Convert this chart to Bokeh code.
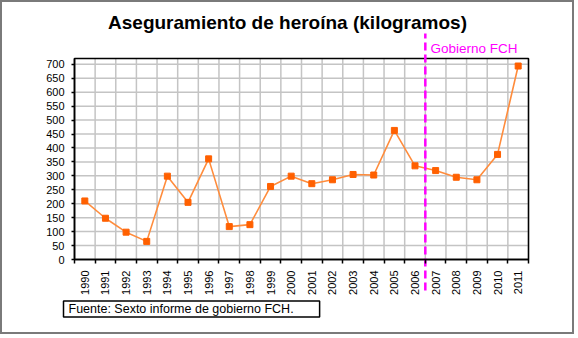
from bokeh.plotting import figure
from bokeh.models import FixedTicker, Label, Range1d
from bokeh.embed import file_html
from bokeh.resources import INLINE

years = [str(y) for y in range(1990, 2012)]
values = [210, 148, 98, 65, 299, 205, 361, 118, 125, 262, 299, 272, 286, 305, 303,
          463, 336, 319, 295, 286, 377, 694]
y_ticks = list(range(0, 701, 50))
y_top = 721
title_text = "Aseguramiento de heroína (kilogramos)"
source_text = "Fuente: Sexto informe de gobierno FCH."
marker_text = "Gobierno FCH"
gov_start_index = years.index("2007")

n = len(years)
xs = [i + 0.5 for i in range(n)]

# layout in page pixels (figure has a 2px CSS border)
BORDER = 2
W, H = 578 - 2 * BORDER, 338 - 2 * BORDER
FL, FR, FT, FB = 74, 528, 58, 259  # plot box in page pixels
sx = (FR - FL) / n
sy = (FB - FT) / y_top
def dx(px):
    return (px - FL) / sx
def dy(py):
    return (FB - py) / sy

x_range = Range1d(dx(BORDER), dx(BORDER + W))
y_range = Range1d(dy(BORDER + H), dy(BORDER))

p = figure(width=W, height=H, x_range=x_range, y_range=y_range,
           output_backend="svg", toolbar_location=None,
           min_border_left=0, min_border_right=0, min_border_top=0, min_border_bottom=0)
p.styles = {"border": "2px solid #7a7a7a"}
p.background_fill_color = "white"
p.border_fill_color = "white"
p.outline_line_color = None
p.xgrid.visible = False
p.ygrid.visible = False

# grid lines inside the plot box
gx = list(range(n + 1))
p.segment(x0=gx, y0=[0] * len(gx), x1=gx, y1=[y_top] * len(gx),
          line_color="#c4c4c4", line_width=1.5)
p.segment(x0=[0] * len(y_ticks), y0=y_ticks, x1=[n] * len(y_ticks), y1=y_ticks,
          line_color="#c4c4c4", line_width=1.5)
# plot box
p.quad(left=[0], right=[n], bottom=[0], top=[y_top], fill_color=None,
       line_color="black", line_width=1.5)

# axes at fixed locations
p.xaxis.fixed_location = 0
p.xaxis.bounds = (0, n)
p.xaxis.ticker = FixedTicker(ticks=xs, minor_ticks=gx)
p.xaxis.major_label_overrides = {x: y for x, y in zip(xs, years)}
p.xaxis.major_label_orientation = 1.5708
p.xaxis.major_tick_line_color = None
p.xaxis.minor_tick_out = 4
p.xaxis.minor_tick_in = 0
p.xaxis.minor_tick_line_color = "black"
p.xaxis.minor_tick_line_width = 1.5
p.xaxis.axis_line_color = "black"
p.xaxis.axis_line_width = 1.5
p.xaxis.major_label_text_font = "Liberation Sans"
p.xaxis.major_label_text_font_size = "11px"
p.xaxis.major_label_text_color = "black"
p.xaxis.major_label_standoff = 5

p.yaxis.fixed_location = 0
p.yaxis.bounds = (0, y_top)
p.yaxis.ticker = FixedTicker(ticks=y_ticks)
p.yaxis.major_tick_out = 3
p.yaxis.major_tick_in = 0
p.yaxis.minor_tick_line_color = None
p.yaxis.major_tick_line_width = 1.5
p.yaxis.axis_line_width = 1.5
p.yaxis.major_label_text_font = "Liberation Sans"
p.yaxis.major_label_text_font_size = "11px"
p.yaxis.major_label_text_color = "black"
p.yaxis.major_label_standoff = 7

p.line(xs, values, line_color="#ff8c3c", line_width=1.6)
p.scatter(xs, values, marker="square", size=6, fill_color="#ff6000", line_color="#ff6000")

p.segment(x0=[gov_start_index], y0=[dy(290)], x1=[gov_start_index], y1=[dy(33)],
          line_color="#ff00ff", line_width=2.5, line_dash="8 4")

p.add_layout(Label(x=dx(430), y=dy(48), text=marker_text, text_color="#ff00ff",
                   text_font="Liberation Sans", text_font_size="13.5px", text_baseline="middle"))

p.add_layout(Label(x=dx(287), y=dy(22), text=title_text, text_align="center",
                   text_baseline="middle", text_font="Liberation Sans", text_font_size="19px",
                   text_font_style="bold", text_color="black"))

p.add_layout(Label(x=dx(63), y=dy(308.5), text=source_text, text_baseline="middle",
                   text_font="Liberation Sans", text_font_size="12.5px", text_color="black",
                   background_fill_color="white", border_line_color="black", border_line_width=1.5,
                   padding=dict(left=5, right=26, top=1, bottom=1)))

open("out.html", "w").write(file_html(p, INLINE))
